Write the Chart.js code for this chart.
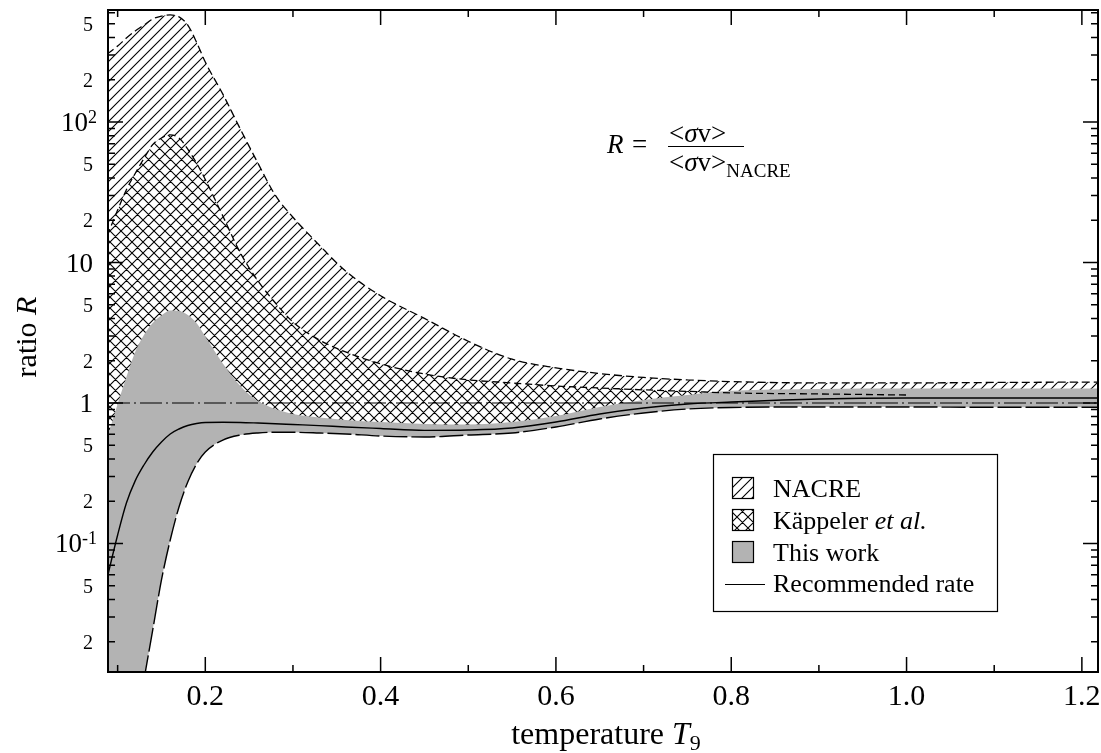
<!DOCTYPE html>
<html>
<head>
<meta charset="utf-8">
<title>Reaction rate ratio</title>
<script src="https://cdn.jsdelivr.net/npm/chart.js@4.4.1/dist/chart.umd.min.js"></script>
<style>
  html, body { margin: 0; padding: 0; background: #fff; }
  #wrap { width: 1101px; height: 753px; }
</style>
</head>
<body>
<div id="wrap"><canvas id="chart" width="1101" height="753"></canvas></div>
<script>
// temperature grid (T9) shared by all bands
const temps = [0.088, 0.10, 0.11, 0.12, 0.13, 0.14, 0.15, 0.16, 0.17, 0.18, 0.19, 0.20,
               0.22, 0.24, 0.26, 0.28, 0.30, 0.33, 0.36, 0.40, 0.45, 0.50, 0.55, 0.60,
               0.65, 0.70, 0.75, 0.80, 0.90, 1.00, 1.10, 1.22];

// NACRE band (ratio to NACRE adopted rate)
const nacreHigh = [305, 347, 396, 444, 490, 541, 568, 578, 560, 490, 370, 267,
                   158, 89, 51, 30, 21, 13.3, 8.7, 5.8, 4.0, 2.75, 2.05, 1.78,
                   1.62, 1.52, 1.46, 1.42, 1.39, 1.39, 1.40, 1.41];
const nacreLow  = [0.30, 0.40, 0.50, 0.55, 0.60, 0.62, 0.64, 0.66, 0.68, 0.70, 0.71, 0.72,
                   0.73, 0.73, 0.72, 0.72, 0.71, 0.70, 0.69, 0.68, 0.66, 0.66, 0.68, 0.74,
                   0.85, 0.95, 1.00, 1.05, 1.05, 1.05, 1.05, 1.05];

// Kaeppeler et al. band, tabulated up to T9 = 1.0
const kapTemps = temps.slice(0, 30);
const kapHigh = [15.5, 23.6, 33, 43, 55, 69, 77, 81, 77, 64, 51, 39,
                 21.4, 11.7, 7.4, 5.15, 3.77, 2.81, 2.31, 1.90, 1.61, 1.46, 1.39, 1.32,
                 1.28, 1.24, 1.21, 1.18, 1.16, 1.14];
const kapLow  = [0.25, 0.35, 0.45, 0.50, 0.55, 0.58, 0.60, 0.62, 0.64, 0.66, 0.68, 0.70,
                 0.71, 0.71, 0.70, 0.70, 0.69, 0.68, 0.67, 0.66, 0.64, 0.645, 0.67, 0.73,
                 0.84, 0.94, 0.99, 1.03, 1.04, 1.04];

// this work: upper / lower limits and recommended rate
const workHigh = [0.565, 0.984, 1.53, 2.31, 3.05, 3.71, 4.2, 4.55, 4.52, 4.23, 3.71, 2.97,
                  1.91, 1.32, 1.033, 0.906, 0.835, 0.788, 0.757, 0.732, 0.709, 0.703, 0.732, 0.808,
                  0.937, 1.05, 1.14, 1.22, 1.26, 1.27, 1.27, 1.27];
const workLow  = [0.00029, 0.00092, 0.00207, 0.0047, 0.01068, 0.0242, 0.055, 0.1059, 0.182, 0.274, 0.368, 0.448,
                  0.545, 0.592, 0.612, 0.619, 0.619, 0.612, 0.602, 0.582, 0.573, 0.592, 0.612, 0.675,
                  0.77, 0.849, 0.906, 0.929, 0.937, 0.937, 0.932, 0.932];
const recommended = [0.0568, 0.115, 0.194, 0.279, 0.362, 0.448, 0.528, 0.602, 0.653, 0.692, 0.715, 0.727,
                     0.729, 0.727, 0.72, 0.712, 0.703, 0.69, 0.675, 0.658, 0.638, 0.642, 0.664, 0.732,
                     0.835, 0.921, 0.984, 1.017, 1.068, 1.085, 1.085, 1.085];

// axis ranges and ticks
const xMin = 0.089, xMax = 1.2184;
const yMin = 0.01217, yMax = 627;
const xMajor = [0.2, 0.4, 0.6, 0.8, 1.0, 1.2];
const xTickLabels = ['0.2', '0.4', '0.6', '0.8', '1.0', '1.2'];
const xMinor = [0.1, 0.3, 0.5, 0.7, 0.9, 1.1];
const yDecades = [0.01, 0.1, 1, 10, 100];
const yLabelValues = [0.02, 0.05, 0.1, 0.2, 0.5, 1, 2, 5, 10, 20, 50, 100, 200, 500];
const yLabelBase   = ['2', '5', '10', '2', '5', '1', '2', '5', '10', '2', '5', '10', '2', '5'];
const yLabelExp    = ['', '', '-1', '', '', '', '', '', '', '', '', '2', '', ''];

const legendLabels = ['NACRE', 'Käppeler', 'This work', 'Recommended rate'];

const SERIF = '"Liberation Serif", "Times New Roman", serif';
const GREY = '#b3b3b3';

const pts = (xs, ys) => ys.map((v, i) => ({ x: xs[i], y: v }));

/** hatch fill: "/" lines, plus "\" lines when cross is set */
function makeHatch(ctx, size, cross) {
    const c = document.createElement('canvas');
    c.width = c.height = size;
    const g = c.getContext('2d');
    g.fillStyle = '#fff';
    g.fillRect(0, 0, size, size);
    g.strokeStyle = '#000';
    g.lineWidth = 1.1;
    g.beginPath();
    g.moveTo(-1, size + 1); g.lineTo(size + 1, -1);
    g.moveTo(-1, 1); g.lineTo(1, -1);
    g.moveTo(size - 1, size + 1); g.lineTo(size + 1, size - 1);
    if (cross) {
        g.moveTo(-1, -1); g.lineTo(size + 1, size + 1);
        g.moveTo(size - 1, -1); g.lineTo(size + 1, 1);
        g.moveTo(-1, size - 1); g.lineTo(1, size + 1);
    }
    g.stroke();
    return ctx.createPattern(c, 'repeat');
}

/** draw a row of text pieces with mixed fonts; align 'left' | 'right' | 'center' */
function drawRuns(ctx, runs, x, y, align) {
    let total = 0;
    runs.forEach((r) => { ctx.font = r.font; r.w = ctx.measureText(r.t).width; total += r.w; });
    let cx = align === 'right' ? x - total : align === 'center' ? x - total / 2 : x;
    ctx.textAlign = 'left';
    ctx.textBaseline = 'alphabetic';
    runs.forEach((r) => {
        ctx.font = r.font;
        ctx.fillText(r.t, cx, y + (r.dy || 0));
        cx += r.w;
    });
}

const canvas = document.getElementById('chart');
const ctx = canvas.getContext('2d');
const nacreHatch = makeHatch(ctx, 10, false);
const kapHatch = makeHatch(ctx, 11, true);

const axesAndNotes = {
    id: 'axesAndNotes',
    afterDraw(chart) {
        const { ctx, chartArea: a, scales: { x, y } } = chart;
        ctx.save();
        ctx.fillStyle = '#000';
        ctx.strokeStyle = '#000';

        // inward ticks on all four sides
        ctx.lineWidth = 1.5;
        ctx.beginPath();
        const xTick = (v, len) => {
            const px = x.getPixelForValue(v);
            ctx.moveTo(px, a.bottom); ctx.lineTo(px, a.bottom - len);
            ctx.moveTo(px, a.top); ctx.lineTo(px, a.top + len);
        };
        const yTick = (v, len) => {
            const py = y.getPixelForValue(v);
            ctx.moveTo(a.left, py); ctx.lineTo(a.left + len, py);
            ctx.moveTo(a.right, py); ctx.lineTo(a.right - len, py);
        };
        xMajor.forEach((v) => xTick(v, 15));
        xMinor.forEach((v) => xTick(v, 7));
        yDecades.forEach((d) => {
            if (d >= yMin && d <= yMax) yTick(d, 15);
            for (let n = 2; n <= 9; n++) {
                const v = n * d;
                if (v >= yMin && v <= yMax) yTick(v, 7);
            }
        });
        ctx.stroke();

        // frame
        ctx.lineWidth = 2;
        ctx.strokeRect(a.left, a.top, a.right - a.left, a.bottom - a.top);

        // x tick labels
        ctx.font = '30px ' + SERIF;
        ctx.textAlign = 'center';
        ctx.textBaseline = 'alphabetic';
        xMajor.forEach((v, i) => ctx.fillText(xTickLabels[i], x.getPixelForValue(v), 705));

        // y tick labels
        yLabelValues.forEach((v, i) => {
            const py = y.getPixelForValue(v);
            const base = yLabelBase[i];
            if (base === '1' || base === '10') {
                const runs = [{ t: base, font: '27px ' + SERIF }];
                if (yLabelExp[i]) runs.push({ t: yLabelExp[i], font: '18px ' + SERIF, dy: -8 });
                drawRuns(ctx, runs, yLabelExp[i] ? 97 : 93, py + 9, 'right');
            } else {
                drawRuns(ctx, [{ t: base, font: '20px ' + SERIF }], 93, py + 7, 'right');
            }
        });

        // axis titles
        drawRuns(ctx, [
            { t: 'temperature ', font: '32px ' + SERIF },
            { t: 'T', font: 'italic 32px ' + SERIF },
            { t: '9', font: '22px ' + SERIF, dy: 6 },
        ], 606, 744, 'center');

        ctx.save();
        ctx.translate(36, 337);
        ctx.rotate(-Math.PI / 2);
        drawRuns(ctx, [
            { t: 'ratio ', font: '30px ' + SERIF },
            { t: 'R', font: 'italic 30px ' + SERIF },
        ], 0, 0, 'center');
        ctx.restore();

        // R = <sv> / <sv>_NACRE
        drawRuns(ctx, [{ t: 'R', font: 'italic 27px ' + SERIF }], 607, 153, 'left');
        drawRuns(ctx, [{ t: '=', font: '27px ' + SERIF }], 632, 153, 'left');
        ctx.lineWidth = 1.2;
        ctx.beginPath();
        ctx.moveTo(668, 146.5); ctx.lineTo(744, 146.5);
        ctx.stroke();
        const sv = () => [
            { t: '<', font: '27px ' + SERIF },
            { t: 'σ', font: 'italic 27px ' + SERIF },
            { t: 'v>', font: '27px ' + SERIF },
        ];
        drawRuns(ctx, sv(), 669, 142, 'left');
        drawRuns(ctx, sv().concat([{ t: 'NACRE', font: '19px ' + SERIF, dy: 6 }]), 669, 171, 'left');

        // legend
        ctx.lineWidth = 1.2;
        ctx.strokeRect(713.5, 454.5, 284, 157);
        const swatches = [nacreHatch, kapHatch, GREY];
        const rows = [488, 520, 552, 584];
        swatches.forEach((fill, i) => {
            ctx.fillStyle = fill;
            ctx.fillRect(732, rows[i] - 11, 22, 22);
            ctx.strokeRect(732.5, rows[i] - 10.5, 21, 21);
        });
        ctx.beginPath();
        ctx.moveTo(725, rows[3] + 0.5); ctx.lineTo(765, rows[3] + 0.5);
        ctx.stroke();
        ctx.fillStyle = '#000';
        drawRuns(ctx, [{ t: legendLabels[0], font: '26px ' + SERIF }], 773, rows[0] + 9, 'left');
        drawRuns(ctx, [
            { t: legendLabels[1] + ' ', font: '26px ' + SERIF },
            { t: 'et al.', font: 'italic 26px ' + SERIF },
        ], 773, rows[1] + 9, 'left');
        drawRuns(ctx, [{ t: legendLabels[2], font: '26px ' + SERIF }], 773, rows[2] + 9, 'left');
        drawRuns(ctx, [{ t: legendLabels[3], font: '26px ' + SERIF }], 773, rows[3] + 8, 'left');

        ctx.restore();
    },
};

const curve = { pointRadius: 0, pointHoverRadius: 0, cubicInterpolationMode: 'monotone', borderColor: '#000' };
const hidden = { ...curve, borderColor: 'rgba(0,0,0,0)', borderWidth: 0, fill: false, order: 0 };

new Chart(ctx, {
    type: 'line',
    data: {
        datasets: [
            { ...curve, label: 'NACRE', data: pts(temps, nacreHigh), fill: '+1',
              backgroundColor: nacreHatch, borderWidth: 1.3, borderDash: [8, 4], order: 3 },
            { ...hidden, label: 'NACRE low', data: pts(temps, nacreLow) },
            { ...curve, label: 'Käppeler et al.', data: pts(kapTemps, kapHigh), fill: '+1',
              backgroundColor: kapHatch, borderWidth: 1.3, borderDash: [7, 4], order: 2 },
            { ...hidden, label: 'Käppeler low', data: pts(kapTemps, kapLow) },
            { ...curve, label: 'This work', data: pts(temps, workHigh), fill: '+1',
              backgroundColor: GREY, borderColor: 'rgba(0,0,0,0)', borderWidth: 0, order: 1 },
            { ...curve, label: 'This work low', data: pts(temps, workLow), fill: false,
              borderWidth: 1.4, borderDash: [24, 4], order: 0 },
            { ...curve, label: 'Recommended rate', data: pts(temps, recommended), fill: false,
              borderWidth: 1.4, order: 0 },
            { ...curve, label: 'R = 1', data: [{ x: xMin, y: 1 }, { x: xMax, y: 1 }], fill: false,
              borderWidth: 1.2, borderDash: [22, 4, 2, 4], order: 0 },
        ],
    },
    options: {
        responsive: false,
        animation: false,
        events: [],
        layout: { padding: { left: 108, right: 3, top: 10, bottom: 81 } },
        scales: {
            x: { type: 'linear', min: xMin, max: xMax, display: false },
            y: { type: 'logarithmic', min: yMin, max: yMax, display: false },
        },
        plugins: {
            legend: { display: false },
            tooltip: { enabled: false },
            filler: { drawTime: 'beforeDatasetsDraw' },
        },
    },
    plugins: [axesAndNotes],
});
</script>
</body>
</html>
